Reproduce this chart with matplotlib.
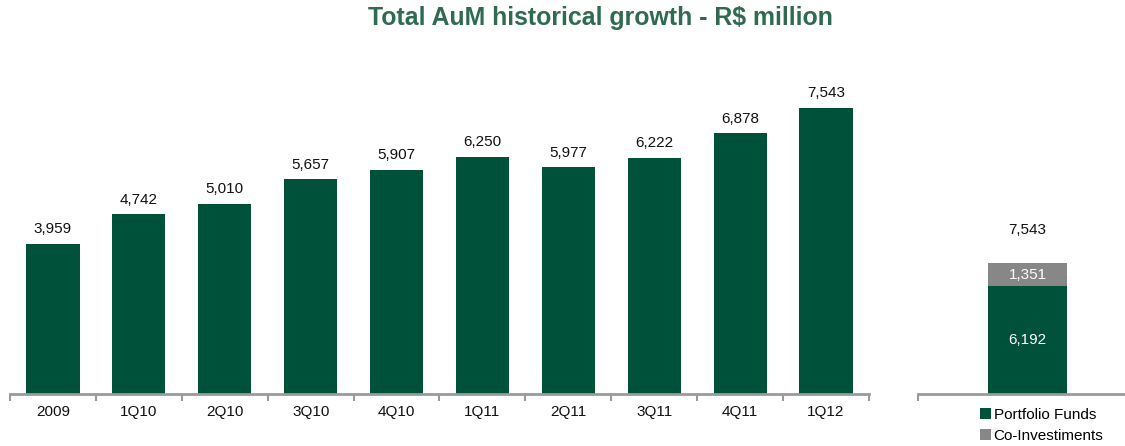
import matplotlib
matplotlib.use("Agg")
import matplotlib.pyplot as plt
import numpy as np

plt.rcParams['font.family'] = ['Liberation Sans', 'DejaVu Sans']

# Quarterly total AuM (R$ million)
periods = ["2009", "1Q10", "2Q10", "3Q10", "4Q10", "1Q11", "2Q11", "3Q11", "4Q11", "1Q12"]
total_aum = [3959, 4742, 5010, 5657, 5907, 6250, 5977, 6222, 6878, 7543]

# Breakdown of the latest quarter
breakdown_labels = ["Portfolio Funds", "Co-Investiments"]
breakdown_values = [6192, 1351]

GREEN = "#00513A"
GREY = "#878787"
SPINE = "#9A9A9A"
TITLE = "#2E6B50"
FS = 11

W, H, DPI = 1125, 446, 100
fig = plt.figure(figsize=(W / DPI, H / DPI), dpi=DPI)

def px_axes(x0, x1, y_top, y_bottom):
    return fig.add_axes([x0 / W, (H - y_bottom) / H, (x1 - x0) / W, (y_bottom - y_top) / H])

# ---- main history panel ----
ax = px_axes(10, 869, 60, 394)
x = np.arange(len(periods))
ax.bar(x, total_aum, width=0.62, color=GREEN)
ax.set_xlim(-0.5, len(periods) - 0.5)
ax.set_ylim(0, 334 / 0.03792)
for xi, v in zip(x, total_aum):
    ax.text(xi, v + 200, f"{v:,}", ha="center", va="bottom", fontsize=FS, color="#111111")

ax.set_xticks(x)
ax.set_xticklabels(periods, fontsize=FS, color="#111111")
ax.tick_params(axis="x", length=0, pad=8)
ax.set_xticks(np.arange(-0.5, len(periods)), minor=True)
ax.tick_params(axis="x", which="minor", length=5, width=1.5, color=SPINE, direction="out")
ax.set_yticks([])
for s in ["top", "right", "left"]:
    ax.spines[s].set_visible(False)
ax.spines["bottom"].set_color(SPINE)
ax.spines["bottom"].set_linewidth(2)

# ---- latest-quarter breakdown panel ----
ax2 = px_axes(918, 1125, 60, 394)
ax2.set_ylim(0, 334 / 0.01737)
ax2.set_xlim(-0.831, 0.740)
b1 = ax2.bar(0, breakdown_values[0], width=0.6, color=GREEN, label=breakdown_labels[0])
b2 = ax2.bar(0, breakdown_values[1], width=0.6, bottom=breakdown_values[0], color=GREY,
             label=breakdown_labels[1])
ax2.text(0, breakdown_values[0] / 2, f"{breakdown_values[0]:,}", ha="center", va="center",
         fontsize=FS, color="white")
ax2.text(0, breakdown_values[0] + breakdown_values[1] / 2, f"{breakdown_values[1]:,}",
         ha="center", va="center", fontsize=FS, color="white")
total = sum(breakdown_values)
ax2.text(0, total + 1500, f"{total:,}", ha="center", va="bottom", fontsize=FS, color="#111111")
ax2.set_yticks([])
ax2.set_xticks([-0.831])
ax2.set_xticklabels([""])
ax2.tick_params(axis="x", length=5, width=1.5, color=SPINE, direction="out")
for s in ["top", "right", "left"]:
    ax2.spines[s].set_visible(False)
ax2.spines["bottom"].set_color(SPINE)
ax2.spines["bottom"].set_linewidth(2)

fig.legend(handles=[b1, b2], labels=breakdown_labels, loc="upper left",
           bbox_to_anchor=(980 / W, (H - 408) / H), frameon=False, fontsize=FS,
           handlelength=0.75, handleheight=0.75, handletextpad=0.15, labelspacing=0.45,
           borderpad=0, borderaxespad=0)

fig.text(600 / W, 1 - 18 / H, "Total AuM historical growth - R$ million", ha="center",
         va="center", fontsize=17.9, fontweight="bold", color=TITLE)

fig.savefig("out.png", dpi=DPI)
